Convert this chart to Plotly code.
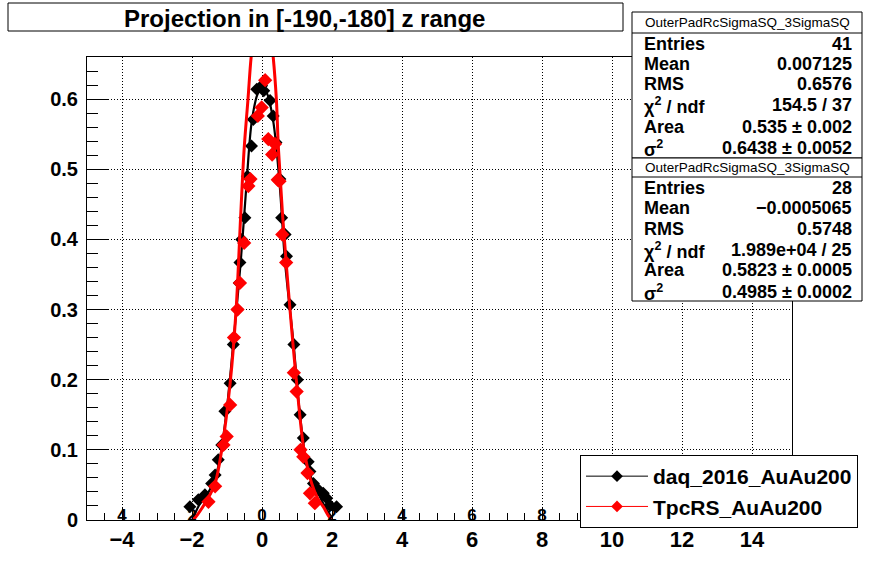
import plotly.graph_objects as go

# ---------------- data ----------------
daq_x = [-2.06, -1.82, -1.63, -1.44, -1.34, -1.25, -1.15, -1.06, -0.91, -0.82,
         -0.70, -0.65, -0.63, -0.58, -0.49, -0.42, -0.30, -0.25, -0.15, -0.01,
         0.05, 0.23, 0.32, 0.40, 0.51, 0.56, 0.66, 0.70, 0.80, 0.91,
         1.01, 1.09, 1.18, 1.32, 1.37, 1.47, 1.61, 1.75, 1.85, 1.94, 2.13]
daq_y = [0.019, 0.029, 0.036, 0.052, 0.064, 0.086, 0.107, 0.155, 0.195, 0.250,
         0.300, 0.338, 0.367, 0.400, 0.431, 0.490, 0.533, 0.571, 0.614, 0.619,
         0.612, 0.598, 0.576, 0.538, 0.486, 0.431, 0.407, 0.376, 0.307, 0.250,
         0.200, 0.150, 0.117, 0.083, 0.069, 0.052, 0.043, 0.038, 0.031, 0.021, 0.019]

rs_x = [-1.53, -1.34, -1.10, -1.01, -0.91, -0.80, -0.70, -0.63, -0.51, -0.39,
        -0.33, -0.12, -0.01, 0.09, 0.18, 0.29, 0.37, 0.45, 0.50, 0.58,
        0.69, 0.91, 0.99, 1.10, 1.18, 1.30, 1.37, 1.51]
rs_y = [0.026, 0.048, 0.107, 0.119, 0.164, 0.260, 0.300, 0.338, 0.395, 0.476,
        0.486, 0.576, 0.588, 0.627, 0.543, 0.521, 0.536, 0.485, 0.483, 0.407,
        0.367, 0.210, 0.183, 0.100, 0.090, 0.067, 0.038, 0.024]

# fitted curves
daq_fit_x = [-1.96, -1.82, -1.49, -1.25, -1.03, -0.82, -0.61, -0.44, -0.29, -0.12,
             0.02, 0.16, 0.32, 0.50, 0.66, 0.90, 1.09, 1.30, 1.56, 1.80, 2.00]
daq_fit_y = [0.003, 0.019, 0.043, 0.076, 0.148, 0.252, 0.367, 0.481, 0.569, 0.608,
             0.617, 0.606, 0.569, 0.481, 0.367, 0.252, 0.148, 0.076, 0.043, 0.019, 0.003]

rs_fit_x = [-2.0, -1.9, -1.7, -1.5, -1.34, -1.15, -0.91, -0.74, -0.61, -0.51,
            -0.40, -0.31, -0.2, -0.1, 0.0, 0.1, 0.2, 0.32, 0.41, 0.47,
            0.59, 0.80, 0.99, 1.20, 1.42, 1.6, 1.75, 1.9, 2.0]
rs_fit_y = [0.0, 0.004, 0.018, 0.035, 0.052, 0.100, 0.195, 0.300, 0.433, 0.529,
            0.600, 0.660, 0.705, 0.735, 0.745, 0.738, 0.712, 0.660, 0.600, 0.529,
            0.433, 0.300, 0.195, 0.100, 0.052, 0.030, 0.019, 0.006, 0.0]

x_ticks = [-4, -2, 0, 2, 4, 6, 8, 10, 12, 14]
y_ticks = [0, 0.1, 0.2, 0.3, 0.4, 0.5, 0.6]
y_tick_text = ["0", "0.1", "0.2", "0.3", "0.4", "0.5", "0.6"]

title_text = "Projection in [-190,-180] z range"
stats_name = "OuterPadRcSigmaSQ_3SigmaSQ"
stats1 = [("Entries", "41"), ("Mean", "0.007125"), ("RMS", "0.6576"),
          ("χ<sup>2</sup> / ndf", "154.5 / 37"), ("Area", "0.535 ± 0.002"),
          ("σ<sup>2</sup>", "0.6438 ± 0.0052")]
stats2 = [("Entries", "28"), ("Mean", "−0.0005065"), ("RMS", "0.5748"),
          ("χ<sup>2</sup> / ndf", "1.989e+04 / 25"), ("Area", "0.5823 ± 0.0005"),
          ("σ<sup>2</sup>", "0.4985 ± 0.0002")]
names = ["daq_2016_AuAu200", "TpcRS_AuAu200"]

# ---------------- layout geometry (pixels) ----------------
W, H = 878, 578
PL, PR, PT, PB = 87, 792, 57, 520          # plot frame
L, R, T, B = PL, W - PR, PT, H - PB
PW, PH = PR - PL, PB - PT

FONT = "Liberation Sans, Arial, sans-serif"


def px(xr):
    return (xr - PL) / PW


def py(yr):
    return (PB - yr) / PH


fig = go.Figure()

fig.add_trace(go.Scatter(x=daq_fit_x, y=daq_fit_y, mode="lines",
                         line=dict(color="black", width=2.2, shape="spline"),
                         showlegend=False, hoverinfo="skip"))
fig.add_trace(go.Scatter(x=daq_x, y=daq_y, mode="markers",
                         marker=dict(symbol="diamond", size=10, color="black"), showlegend=False))
fig.add_trace(go.Scatter(x=rs_fit_x, y=rs_fit_y, mode="lines",
                         line=dict(color="red", width=3, shape="spline"),
                         showlegend=False, hoverinfo="skip"))
fig.add_trace(go.Scatter(x=rs_x, y=rs_y, mode="markers",
                         marker=dict(symbol="diamond", size=11, color="red"), showlegend=False))
# legend entries
fig.add_trace(go.Scatter(x=[None], y=[None], mode="lines+markers", name="<b>" + names[0] + "</b>",
                         line=dict(color="black", width=1), marker=dict(symbol="diamond", size=9, color="black")))
fig.add_trace(go.Scatter(x=[None], y=[None], mode="lines+markers", name="<b>" + names[1] + "</b>",
                         line=dict(color="red", width=1), marker=dict(symbol="diamond", size=9, color="red")))
# carrier for the overlaid second x axis (labels drawn on the axis line)
fig.add_trace(go.Scatter(x=[None], y=[None], xaxis="x2", showlegend=False, hoverinfo="skip"))

shapes = []
annotations = []

# title box
shapes.append(dict(type="rect", xref="paper", yref="paper",
                   x0=px(8), x1=px(623), y0=py(31), y1=py(3),
                   line=dict(color="black", width=1), fillcolor="white", layer="above"))
annotations.append(dict(xref="paper", yref="paper", x=px(304), y=py(18),
                        text="<b>" + title_text + "</b>", showarrow=False,
                        font=dict(family=FONT, size=24, color="black"), xanchor="center", yanchor="middle"))


def stats_box(top, bottom, header_line, rows_y, rows):
    shapes.append(dict(type="rect", xref="paper", yref="paper",
                       x0=px(632), x1=px(862), y0=py(bottom), y1=py(top),
                       line=dict(color="black", width=1), fillcolor="white", layer="above"))
    shapes.append(dict(type="line", xref="paper", yref="paper",
                       x0=px(632), x1=px(862), y0=py(header_line), y1=py(header_line),
                       line=dict(color="black", width=1), layer="above"))
    annotations.append(dict(xref="paper", yref="paper", x=px(747), y=py((top + header_line) / 2),
                            text=stats_name, showarrow=False, xanchor="center", yanchor="middle",
                            font=dict(family=FONT, size=13.5, color="black")))
    for (lab, val), yy in zip(rows, rows_y):
        annotations.append(dict(xref="paper", yref="paper", x=px(642), y=py(yy),
                                text="<b>" + lab + "</b>", showarrow=False, xanchor="left", yanchor="middle",
                                font=dict(family=FONT, size=18, color="black")))
        annotations.append(dict(xref="paper", yref="paper", x=px(854), y=py(yy),
                                text="<b>" + val + "</b>", showarrow=False, xanchor="right", yanchor="middle",
                                font=dict(family=FONT, size=18, color="black")))


stats_box(12, 158, 33, [44, 64, 84, 105, 127, 148], stats1)
stats_box(158, 301, 177, [188, 208, 229, 250, 270, 292], stats2)

xrange_ = [-5, (PR - 262) / 35]
fig.update_layout(
    width=W, height=H,
    margin=dict(l=L, r=R, t=T, b=B, pad=0),
    paper_bgcolor="white", plot_bgcolor="white",
    shapes=shapes, annotations=annotations,
    showlegend=True,
    legend=dict(x=px(580), y=py(455), xanchor="left", yanchor="top",
                bgcolor="white", bordercolor="black", borderwidth=1,
                font=dict(family=FONT, size=21, color="black"), itemwidth=62,
                tracegroupgap=0),
    xaxis=dict(range=xrange_, tickvals=x_ticks,
               ticktext=["<b>" + ("−" if t < 0 else "") + str(abs(t)) + "</b>" for t in x_ticks],
               showgrid=True, gridcolor="black", griddash="1px,2px", gridwidth=1,
               ticks="inside", ticklen=12, tickcolor="black", tickwidth=1,
               minor=dict(dtick=0.5, ticks="inside", ticklen=7, tickcolor="black", showgrid=False),
               showline=True, linecolor="black", linewidth=1, mirror=True, zeroline=False,
               tickfont=dict(family=FONT, size=22, color="black"), ticklabelstandoff=0),
    xaxis2=dict(overlaying="x", anchor="free", position=0.036, side="bottom", range=xrange_,
                tickvals=x_ticks, ticktext=["<b>" + str(abs(t)) + "</b>" for t in x_ticks],
                showgrid=False, showline=False, ticks="", zeroline=False,
                tickfont=dict(family=FONT, size=17, color="black"), ticklabelstandoff=0),
    yaxis=dict(range=[0, 0.66], tickvals=y_ticks, ticktext=["<b>" + s + "</b>" for s in y_tick_text],
               showgrid=True, gridcolor="black", griddash="1px,2px", gridwidth=1,
               ticks="inside", ticklen=22, tickcolor="black", tickwidth=1,
               minor=dict(dtick=0.02, ticks="inside", ticklen=11, tickcolor="black", showgrid=False),
               showline=True, linecolor="black", linewidth=1, mirror=True, zeroline=False,
               tickfont=dict(family=FONT, size=20, color="black"), ticklabelstandoff=4),
)

fig.write_html("out.html", config={"displayModeBar": False},
               post_script="document.body.style.margin='0';")
